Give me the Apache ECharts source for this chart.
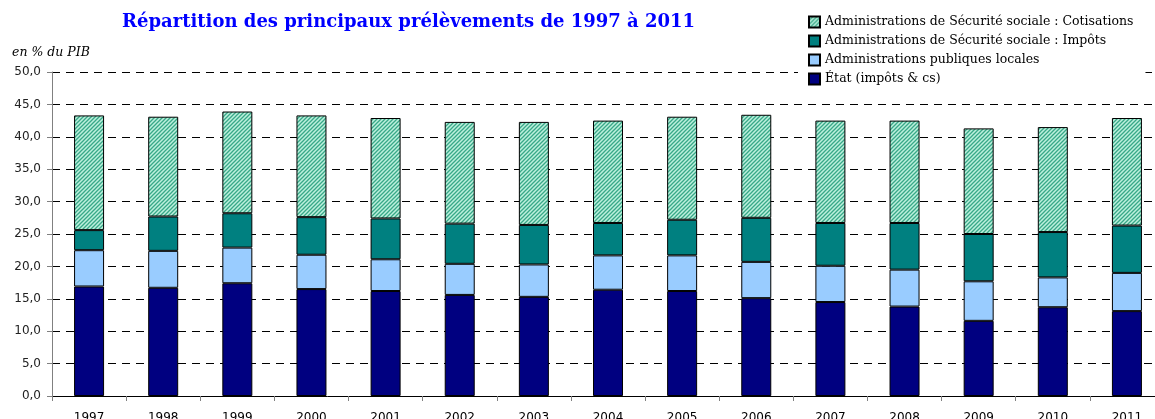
<!DOCTYPE html>
<html>
<head>
<meta charset="utf-8">
<script src="https://cdn.jsdelivr.net/npm/echarts@6/dist/echarts.min.js"></script>
<style>
  html, body { margin: 0; padding: 0; background: #fff; }
  #chart { width: 1155px; height: 419px; }
</style>
</head>
<body>
<div id="chart"></div>
<script>
// années
const years = ['1997', '1998', '1999', '2000', '2001', '2002', '2003', '2004',
  '2005', '2006', '2007', '2008', '2009', '2010', '2011']

// en % du PIB
const etat = [16.9, 16.7, 17.4, 16.5, 16.2, 15.6, 15.3, 16.4, 16.2, 15.1, 14.5, 13.8, 11.6, 13.7, 13.1]
const apul = [5.6, 5.7, 5.5, 5.3, 4.9, 4.8, 5.0, 5.3, 5.5, 5.6, 5.6, 5.7, 6.1, 4.6, 5.9]
const assoImpots = [3.1, 5.3, 5.3, 5.8, 6.3, 6.2, 6.1, 5.0, 5.5, 6.8, 6.6, 7.2, 7.3, 7.0, 7.3]
const assoCotis = [17.7, 15.4, 15.7, 15.7, 15.5, 15.7, 15.9, 15.8, 15.9, 15.9, 15.8, 15.8, 16.3, 16.2, 16.6]

const names = [
  'Administrations de Sécurité sociale : Cotisations',
  'Administrations de Sécurité sociale : Impôts',
  'Administrations publiques locales',
  'État (impôts & cs)'
]

// motif hachuré pour les cotisations
function hatch () {
  const c = document.createElement('canvas')
  c.width = 4
  c.height = 4
  const ctx = c.getContext('2d')
  ctx.fillStyle = '#bdf0dd'
  ctx.fillRect(0, 0, 4, 4)
  ctx.strokeStyle = '#38a888'
  ctx.lineWidth = 1.3
  ctx.beginPath()
  ctx.moveTo(0, 4); ctx.lineTo(4, 0)
  ctx.moveTo(-1, 1); ctx.lineTo(1, -1)
  ctx.moveTo(3, 5); ctx.lineTo(5, 3)
  ctx.stroke()
  return c
}

const chart = echarts.init(document.getElementById('chart'))

function bar (name, data, color) {
  return {
    name: name,
    type: 'bar',
    stack: 'total',
    barWidth: 30,
    data: data,
    itemStyle: { color: color, borderColor: '#000', borderWidth: 1 },
    emphasis: { disabled: true }
  }
}

const option = {
  animation: false,
  title: {
    text: 'Répartition des principaux prélèvements de 1997 à 2011',
    left: 117,
    top: 8,
    textStyle: { fontFamily: 'DejaVu Serif', fontWeight: 'bold', fontSize: 18, color: '#0000ff' }
  },
  legend: {
    orient: 'vertical',
    left: 798,
    top: 9,
    padding: [6, 12, 6, 10],
    backgroundColor: '#fff',
    icon: 'rect',
    itemWidth: 11,
    itemHeight: 11,
    itemGap: 5,
    data: names,
    textStyle: { fontFamily: 'DejaVu Serif', fontSize: 12.5, color: '#000', lineHeight: 14 }
  },
  graphic: [{
    type: 'text',
    left: 12,
    top: 46,
    style: { text: 'en % du PIB', fontFamily: 'DejaVu Serif', fontStyle: 'italic', fontSize: 12.5, fill: '#000' }
  }],
  grid: { left: 52, top: 72, width: 1112, height: 324, outerBoundsMode: 'none' },
  xAxis: {
    type: 'category',
    data: years,
    axisLine: { lineStyle: { color: '#000', width: 1 } },
    axisTick: { show: true, length: 5, lineStyle: { color: '#808080' } },
    axisLabel: { margin: 16, fontFamily: 'DejaVu Sans', fontSize: 12, color: '#000' }
  },
  yAxis: {
    type: 'value',
    min: 0,
    max: 50,
    interval: 5,
    axisLine: { show: true, lineStyle: { color: '#808080', width: 1 } },
    axisTick: { show: true, length: 5, lineStyle: { color: '#808080' } },
    axisLabel: {
      margin: 11,
      fontFamily: 'DejaVu Sans',
      fontSize: 12,
      color: '#222',
      formatter: v => v.toFixed(1).replace('.', ',')
    },
    splitLine: { lineStyle: { color: '#000', type: [8, 6], width: 1 } }
  },
  series: [
    bar(names[3], etat, '#000080'),
    bar(names[2], apul, '#99ccff'),
    bar(names[1], assoImpots, '#008080'),
    bar(names[0], assoCotis, { image: hatch(), repeat: 'repeat' })
  ]
}

chart.setOption(option)
</script>
</body>
</html>
